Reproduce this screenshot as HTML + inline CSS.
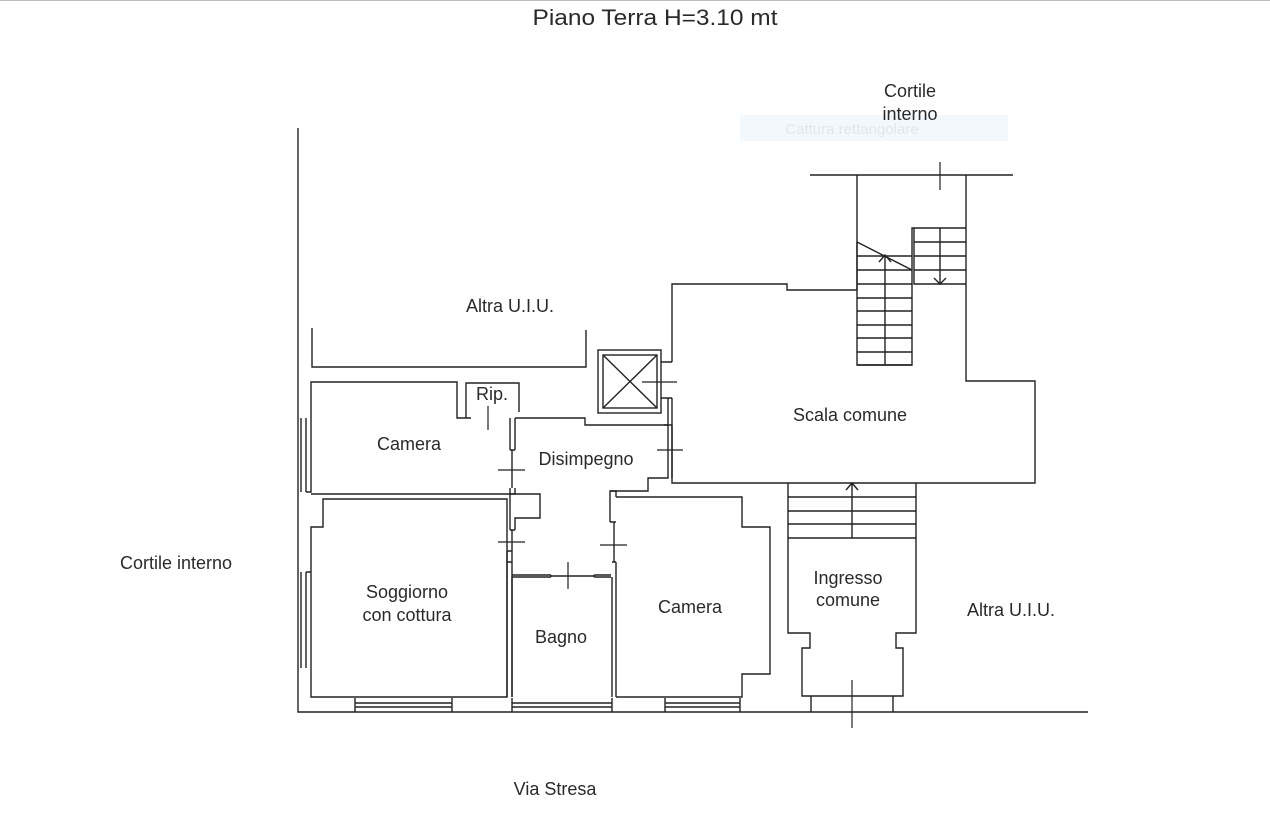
<!DOCTYPE html>
<html><head><meta charset="utf-8"><style>
html,body{margin:0;padding:0;background:#fff;}
svg{display:block}
text{font-family:"Liberation Sans",sans-serif;fill:#2a2a2a}
</style></head><body>
<svg width="1270" height="815" viewBox="0 0 1270 815" xmlns="http://www.w3.org/2000/svg">
<line x1="0" y1="0.5" x2="1270" y2="0.5" stroke="#bbb"/>
<text x="655" y="25" font-size="22.5" text-anchor="middle" textLength="245" lengthAdjust="spacingAndGlyphs">Piano Terra H=3.10 mt</text>
<rect x="740" y="115" width="268" height="26" fill="#f3f8fc"/>
<text x="852" y="134" font-size="15" text-anchor="middle" style="fill:#dfe7ee">Cattura rettangolare</text>
<g font-size="18" text-anchor="middle">
<text x="910" y="97">Cortile</text>
<text x="910" y="120">interno</text>
<text x="510" y="312">Altra U.I.U.</text>
<text x="176" y="569">Cortile interno</text>
<text x="409" y="450">Camera</text>
<text x="492" y="400">Rip.</text>
<text x="586" y="465">Disimpegno</text>
<text x="850" y="421">Scala comune</text>
<text x="407" y="598">Soggiorno</text>
<text x="407" y="621">con cottura</text>
<text x="561" y="643">Bagno</text>
<text x="690" y="613">Camera</text>
<text x="848" y="584">Ingresso</text>
<text x="848" y="606">comune</text>
<text x="1011" y="616">Altra U.I.U.</text>
<text x="555" y="795">Via Stresa</text>
</g>
<g fill="none" stroke="#222" stroke-width="1.4">
<path d="M298 128V712H1088"/>
<path d="M301 418V492M306 418V492M301 572V668M306 572V668"/>
<path d="M312 328V367H586V330"/>
<path d="M306 492H311V382H457V418H471"/>
<path d="M466 418V383H519V412"/>
<path d="M311 494H510"/>
<path d="M510 418V450M515 418V450M510 450H515M512 450V488M510 488V494H515V488"/>
<path d="M515 418H585V425H668V478H648V491H610V522"/>
<path d="M510 494H540V518H515V530M510 494V530M510 530H515"/>
<path d="M512 530V551"/>
<path d="M306 572H311V527H323V499H507V697H311V572"/>
<path d="M507 551V697M512 562V697M507 551H512V562M507 562H512"/>
<path d="M512 575H551M512 577H551M551 575V577M594 575H611M594 577H611M594 575V577M551 576H594"/>
<path d="M512 577V697M612 577V697M616 562V697M612 562H616"/>
<path d="M610 522H616M614 522V562"/>
<path d="M616 497H742V527H770V674H742V697H616"/>
<path d="M610 491H616V497"/>
<path d="M355 698V712M452 698V712M355 703H452M355 707H452"/>
<path d="M512 698V712M612 698V712M512 703H612M512 707H612"/>
<path d="M665 698V712M740 698V712M665 703H740M665 707H740"/>
<rect x="598" y="350" width="63" height="63"/>
<rect x="603" y="355" width="54" height="53"/>
<path d="M603 355L657 408M657 355L603 408"/>
<path d="M672 362V284H787V290H857"/>
<path d="M672 398V483H1035V381H966V175"/>
<path d="M661 362H672M661 398H672M668 398V425M664 425H672M672 425V478"/>
<path d="M810 175H1013M857 175V290"/>
<path d="M857 242V365H912V228H966"/>
<path d="M857 256H912M857 270H912M857 284H912M857 298H912M857 311H912M857 325H912M857 338H912M857 352H912M857 365H912M885 256V365"/>
<path d="M857 242L912 270"/>
<path d="M914 228V284H966M914 242H966M914 256H966M914 270H966M940 228V284"/>
<path d="M879 262L885 255L891 262M934 278L940 284L946 278"/>
<path d="M788 483V633H810V648H802V696H903V648H896V633H916V483"/>
<path d="M788 497H916M788 511H916M788 524H916M788 538H916M852 483V538M846 490L852 483L858 490"/>
<path d="M811 696V712M893 696V712"/>
</g>
<g stroke="#222" stroke-width="1.2">
<path d="M940 162V190M488 406V430M498 470H525M498 542H525M600 545H627M568 562V589M642 382H677M657 450H683M852 680V728"/>
</g>
</svg>
</body></html>
